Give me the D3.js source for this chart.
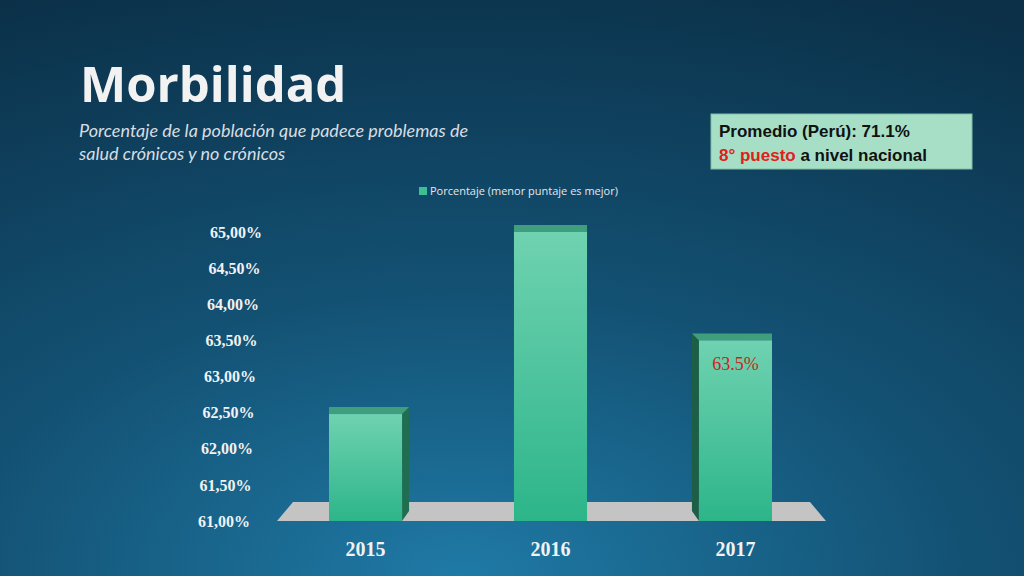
<!DOCTYPE html>
<html lang="es">
<head>
<meta charset="UTF-8">
<title>Morbilidad</title>
<script src="https://cdn.jsdelivr.net/npm/d3@7/dist/d3.min.js"></script>
<style>
    body { margin: 0; overflow: hidden; }
    svg { display: block; }
</style>
</head>
<body>
<svg id="chart"></svg>
<script>
    var width = 1024, height = 576;

    // data
    var years = ['2015', '2016', '2017'];
    var values = [62.48, 65.0, 63.5];
    var ticks = [61, 61.5, 62, 62.5, 63, 63.5, 64, 64.5, 65];
    var sideDir = [1, 0, -1];   // which side of the bar is visible

    var svg = d3.select('#chart').attr('width', width).attr('height', height);
    var defs = svg.append('defs');

    var bg = defs.append('radialGradient').attr('id', 'bg')
        .attr('cx', '45%').attr('cy', '100%').attr('r', '110%');
    bg.append('stop').attr('offset', '0%').attr('stop-color', '#1f7aa6');
    bg.append('stop').attr('offset', '45%').attr('stop-color', '#135173');
    bg.append('stop').attr('offset', '100%').attr('stop-color', '#0b3048');

    var front = defs.append('linearGradient').attr('id', 'front')
        .attr('x1', 0).attr('y1', 0).attr('x2', 0).attr('y2', 1);
    front.append('stop').attr('offset', '0%').attr('stop-color', '#6fd2b0');
    front.append('stop').attr('offset', '100%').attr('stop-color', '#2db58a');

    svg.append('rect').attr('width', width).attr('height', height).attr('fill', 'url(#bg)');

    // title + subtitle
    svg.append('text').attr('x', 80).attr('y', 102)
        .attr('font-family', 'Open Sans, sans-serif').attr('font-weight', 'bold')
        .attr('font-size', 49).attr('fill', '#f2f2f2').text('Morbilidad');
    var sub = svg.append('text').attr('font-family', 'Lato, sans-serif')
        .attr('font-style', 'italic').attr('font-size', 18).attr('fill', '#d8dde2');
    sub.append('tspan').attr('x', 79).attr('y', 137).text('Porcentaje de la población que padece problemas de');
    sub.append('tspan').attr('x', 79).attr('y', 160).text('salud crónicos y no crónicos');

    // info box
    svg.append('rect').attr('x', 711).attr('y', 114).attr('width', 261).attr('height', 55)
        .attr('fill', '#a6dfc6').attr('stroke', '#7fbfa5');
    svg.append('text').attr('x', 719).attr('y', 137)
        .attr('font-family', 'Liberation Sans, Arial, sans-serif').attr('font-weight', 'bold')
        .attr('font-size', 17).attr('fill', '#111').text('Promedio (Perú): 71.1%');
    var t2 = svg.append('text').attr('x', 719).attr('y', 161)
        .attr('font-family', 'Liberation Sans, Arial, sans-serif').attr('font-weight', 'bold')
        .attr('font-size', 17).attr('fill', '#111');
    t2.append('tspan').attr('fill', '#e0201b').text('8° puesto');
    t2.append('tspan').text(' a nivel nacional');

    // legend
    svg.append('rect').attr('x', 419).attr('y', 187).attr('width', 8).attr('height', 8).attr('fill', '#3dbf94');
    svg.append('text').attr('x', 430).attr('y', 195)
        .attr('font-family', 'Open Sans, sans-serif').attr('font-size', 11)
        .attr('fill', '#e6e6e6').text('Porcentaje (menor puntaje es mejor)');

    // scales
    var y = d3.scaleLinear().domain([61, 65]).range([521, 232]);
    var x = d3.scaleBand().domain(years).range([273.5, 827.5]).paddingInner(0.605).paddingOuter(0.3);

    // axis labels
    var yAxis = svg.append('g').attr('transform', 'translate(262,0)')
        .call(d3.axisLeft(y).tickValues(ticks).tickSize(0).tickPadding(0)
            .tickFormat(function (d) { return d3.format('.2f')(d).replace('.', ',') + '%'; }));
    yAxis.select('.domain').remove();
    yAxis.selectAll('text').attr('font-family', 'Liberation Serif, serif').attr('font-weight', 'bold')
        .attr('font-size', 16).attr('fill', '#f2f2f2')
        .attr('dx', function (d) { return (65 - d) * -3; });

    // floor
    svg.append('path')
        .attr('d', 'M277,521 L826,521 L810,502 L293,502 Z')
        .attr('fill', '#c4c4c4');

    // bars
    var bw = x.bandwidth(), depth = 7;
    years.forEach(function (yr, i) {
        var x0 = x(yr), top = y(values[i]), s = sideDir[i] * 7;
        var g = svg.append('g');
        if (s > 0) {
            g.append('path').attr('d', 'M' + (x0 + bw) + ',' + top + ' l' + s + ',-' + depth + ' L' + (x0 + bw + s) + ',511 L' + (x0 + bw) + ',521 Z').attr('fill', '#1f6e52');
        } else if (s < 0) {
            g.append('path').attr('d', 'M' + x0 + ',' + top + ' l' + s + ',-' + depth + ' L' + (x0 + s) + ',511 L' + x0 + ',521 Z').attr('fill', '#1c5e46');
        }
        var l = s < 0 ? s : 0, r = s > 0 ? s : 0;
        g.append('path').attr('d', 'M' + x0 + ',' + top + ' L' + (x0 + l) + ',' + (top - depth) +
            ' L' + (x0 + bw + r) + ',' + (top - depth) + ' L' + (x0 + bw) + ',' + top + ' Z')
            .attr('fill', '#3f9e7c');
        g.append('rect').attr('x', x0).attr('y', top).attr('width', bw).attr('height', 521 - top)
            .attr('fill', 'url(#front)');
    });

    // year labels
    svg.selectAll('.yr').data(years).enter().append('text')
        .attr('x', function (d) { return x(d) + bw / 2; }).attr('y', 556)
        .attr('text-anchor', 'middle').attr('font-family', 'Liberation Serif, serif')
        .attr('font-weight', 'bold').attr('font-size', 20).attr('fill', '#f2f2f2')
        .text(function (d) { return d; });

    // value label 2017
    svg.append('text').attr('x', x('2017') + bw / 2).attr('y', 370)
        .attr('text-anchor', 'middle').attr('font-family', 'Liberation Serif, serif')
        .attr('font-size', 18).attr('fill', '#d0231c').text('63.5%');
</script>
</body>
</html>
